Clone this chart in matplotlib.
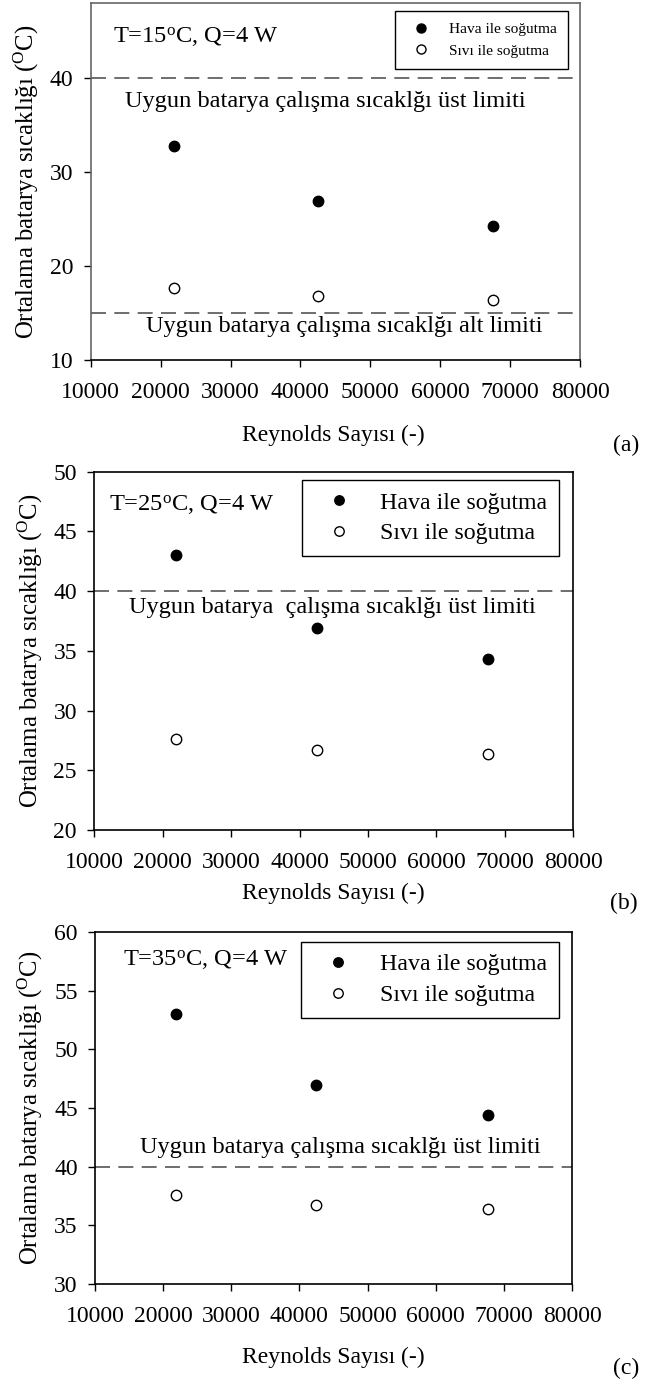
import matplotlib
matplotlib.use("Agg")
import matplotlib.pyplot as plt
from matplotlib.lines import Line2D

plt.rcParams['font.family'] = ['Liberation Serif', 'DejaVu Serif']
plt.rcParams['mathtext.fontset'] = 'custom'
plt.rcParams['mathtext.rm'] = 'Liberation Serif'
plt.rcParams['mathtext.it'] = 'Liberation Serif:italic'

# ---- data ----
reynolds = [21900, 42500, 67600]
hava_a = [32.8, 26.9, 24.3]
sivi_a = [17.7, 16.8, 16.4]
hava_b = [43.0, 36.9, 34.3]
sivi_b = [27.6, 26.7, 26.4]
hava_c = [53.0, 47.0, 44.4]
sivi_c = [37.6, 36.7, 36.4]

xticks = [10000, 20000, 30000, 40000, 50000, 60000, 70000, 80000]
yticks_a = [10, 20, 30, 40]
yticks_b = [20, 25, 30, 35, 40, 45, 50]
yticks_c = [30, 35, 40, 45, 50, 55, 60]

label_hava = "Hava ile soğutma"
label_sivi = "Sıvı ile soğutma"
xlabel = "Reynolds Sayısı (-)"
ylabel = r"Ortalama batarya sıcaklığı ($^\mathrm{O}$C)"
upper_text_a = "Uygun batarya çalışma sıcaklğı üst limiti"
upper_text_b = "Uygun batarya  çalışma sıcaklğı üst limiti"
lower_text_a = "Uygun batarya çalışma sıcaklğı alt limiti"
cond_a = r"T=15$^\mathrm{o}$C, Q=4 W"
cond_b = r"T=25$^\mathrm{o}$C, Q=4 W"
cond_c = r"T=35$^\mathrm{o}$C, Q=4 W"

W, H = 651, 1382
fig = plt.figure(figsize=(W / 100, H / 100), dpi=100)

def px_axes(l, t, r, b):
    return fig.add_axes([l / W, 1 - b / H, (r - l) / W, (b - t) / H])

ax_a = px_axes(90.7, 3.3, 580, 360)
ax_b = px_axes(94.3, 471.7, 573.3, 830)
ax_c = px_axes(95, 932, 572, 1284)

TICK_FS = 17
TEXT_FS = 17.6
DASH_COLOR = '#555555'

def style(ax, ylim, yticks, spine_color):
    ax.set_xlim(10000, 80000)
    ax.set_ylim(*ylim)
    ax.set_xticks(xticks)
    ax.set_yticks(yticks)
    ax.set_xticklabels([str(v) for v in xticks])
    ax.tick_params(direction='out', length=5, width=1, labelsize=TICK_FS)
    ax.tick_params(axis='x', pad=11)
    ax.tick_params(axis='y', pad=7.5)
    for s in ['left', 'top', 'right']:
        ax.spines[s].set_color(spine_color)
        ax.spines[s].set_linewidth(1.2)
    ax.spines['bottom'].set_color('black')
    ax.spines['bottom'].set_linewidth(1.2)

def points(ax, hava, sivi, ms):
    ax.plot(reynolds, hava, linestyle='none', marker='o', ms=ms,
            mfc='black', mec='black', mew=1.0, zorder=3)
    ax.plot(reynolds, sivi, linestyle='none', marker='o', ms=ms,
            mfc='white', mec='black', mew=1.0, zorder=3)

def hline(ax, y):
    ax.axhline(y, color=DASH_COLOR, lw=1.2, dashes=(9, 5), zorder=1)

def legend(ax, fs, anchor, bp, hl, htp, ls, ms):
    handles = [Line2D([], [], linestyle='none', marker='o', ms=ms, mfc='black', mec='black'),
               Line2D([], [], linestyle='none', marker='o', ms=ms, mfc='white', mec='black')]
    leg = ax.legend(handles, [label_hava, label_sivi], loc='upper right',
                    bbox_to_anchor=anchor, fontsize=fs, frameon=True, fancybox=False,
                    borderpad=bp, handlelength=hl, handletextpad=htp, labelspacing=ls,
                    borderaxespad=0, edgecolor='black', framealpha=1)
    leg.get_frame().set_linewidth(1.0)

def ytext(ax, x, y, s, ha):
    ax.text(x, y, s, transform=ax.get_yaxis_transform(), fontsize=TEXT_FS,
            ha=ha, va='baseline')

# panel (a)
style(ax_a, (10, 48), yticks_a, '#666666')
hline(ax_a, 40)
hline(ax_a, 15)
points(ax_a, hava_a, sivi_a, 7.5)
ytext(ax_a, 0.046, 43.8, cond_a, 'left')
ytext(ax_a, 0.479, 37.0, upper_text_a, 'center')
ytext(ax_a, 0.518, 13.0, lower_text_a, 'center')
legend(ax_a, 11.1, (0.9755, 0.979), 0.75, 1.95, 0.8, 0.5, 6.5)

# panel (b)
style(ax_b, (20, 50), yticks_b, 'black')
hline(ax_b, 40)
points(ax_b, hava_b, sivi_b, 7.5)
ytext(ax_b, 0.031, 46.7, cond_b, 'left')
ytext(ax_b, 0.496, 38.2, upper_text_b, 'center')
legend(ax_b, 17.2, (0.970, 0.977), 0.5, 2.05, 0.7, 0.38, 6.8)

# panel (c)
style(ax_c, (30, 60), yticks_c, 'black')
hline(ax_c, 40)
points(ax_c, hava_c, sivi_c, 7.5)
ytext(ax_c, 0.059, 57.1, cond_c, 'left')
ytext(ax_c, 0.514, 41.15, upper_text_a, 'center')
legend(ax_c, 17.2, (0.9727, 0.973), 0.5, 2.1, 0.7, 0.38, 6.8)

# axis labels and panel tags (pixel positions)
def ftext(x, y, s, **kw):
    fig.text(x / W, 1 - y / H, s, **kw)

YL_FS = 17.8
ftext(26, 182, ylabel, rotation=90, fontsize=YL_FS, ha='center', va='center')
ftext(30, 651, ylabel, rotation=90, fontsize=YL_FS, ha='center', va='center')
ftext(30, 1108, ylabel, rotation=90, fontsize=YL_FS, ha='center', va='center')

XL_FS = 17
ftext(333, 435, xlabel, fontsize=XL_FS, ha='center', va='center')
ftext(333, 893, xlabel, fontsize=XL_FS, ha='center', va='center')
ftext(333, 1357, xlabel, fontsize=XL_FS, ha='center', va='center')

ftext(626, 445, "(a)", fontsize=17, ha='center', va='center')
ftext(624, 903, "(b)", fontsize=17, ha='center', va='center')
ftext(626, 1368, "(c)", fontsize=17, ha='center', va='center')

fig.savefig("out.png", dpi=100)
